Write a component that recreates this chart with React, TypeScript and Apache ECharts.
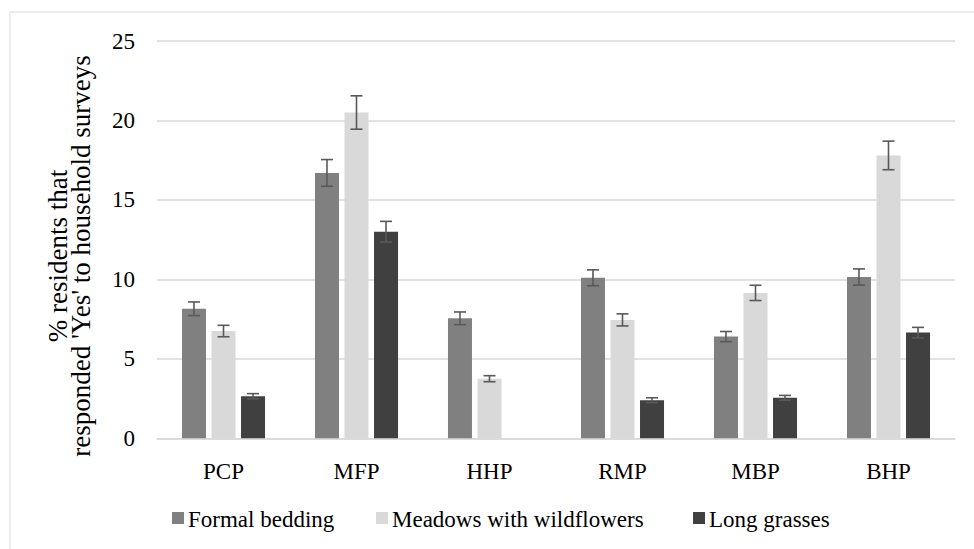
import React, { useEffect, useRef } from "react";
import * as echarts from "echarts";

const categories = ["PCP", "MFP", "HHP", "RMP", "MBP", "BHP"];
const seriesNames = ["Formal bedding", "Meadows with wildflowers", "Long grasses"];
const formalBedding = [8.15, 16.7, 7.55, 10.1, 6.4, 10.15];
const meadows = [6.75, 20.5, 3.75, 7.45, 9.15, 17.8];
const longGrasses = [2.65, 13.0, null, 2.4, 2.55, 6.65];
const formalErr = [0.43, 0.84, 0.4, 0.5, 0.32, 0.51];
const meadowsErr = [0.36, 1.05, 0.19, 0.38, 0.48, 0.9];
const longErr = [0.16, 0.65, null, 0.15, 0.15, 0.33];
const yTicks = [0, 5, 10, 15, 20, 25];

const colors = ["#808080", "#d9d9d9", "#404040"];
const FONT = "Liberation Serif";
const BAR_W = 24;
const BAR_GAP = 0.23;
const LEGEND_X = [172, 376, 693];

export default function App() {
  const ref = useRef<HTMLDivElement>(null);
  useEffect(() => {
    if (!ref.current) return;
    const chart = echarts.init(ref.current, null, { renderer: "svg" });
    const values = [formalBedding, meadows, longGrasses];
    const errs = [formalErr, meadowsErr, longErr];
    const barSeries = values.map((v, i) => ({
      type: "bar",
      name: seriesNames[i],
      data: v,
      barWidth: BAR_W,
      barGap: BAR_GAP * 100 + "%",
      itemStyle: { color: colors[i] },
      z: 2,
    }));
    const errSeries = values.map((v, i) => ({
      type: "custom",
      name: "err" + i,
      data: v
        .map((val, k) => (val == null || errs[i][k] == null ? null : [k, val, errs[i][k]]))
        .filter((d) => d != null),
      z: 5,
      renderItem: (params: any, api: any) => {
        const k = api.value(0);
        const val = api.value(1);
        const e = api.value(2);
        const hi = api.coord([k, val + e]);
        const lo = api.coord([k, val - e]);
        const off = (i - 1) * BAR_W * (1 + BAR_GAP);
        const x = hi[0] + off;
        const st = { stroke: "#595959", lineWidth: 1.6 };
        return {
          type: "group",
          children: [
            { type: "line", shape: { x1: x, y1: hi[1], x2: x, y2: lo[1] }, style: st },
            { type: "line", shape: { x1: x - 6, y1: hi[1], x2: x + 6, y2: hi[1] }, style: st },
            { type: "line", shape: { x1: x - 6, y1: lo[1], x2: x + 6, y2: lo[1] }, style: st },
          ],
        };
      },
    }));

    const legendEls: any[] = [];
    const ly = 519;
    seriesNames.forEach((n, i) => {
      const lx = LEGEND_X[i];
      legendEls.push({
        type: "rect",
        shape: { x: lx, y: ly - 7, width: 12, height: 12 },
        style: { fill: colors[i] },
      });
      legendEls.push({
        type: "text",
        x: lx + 16,
        y: ly,
        style: {
          text: n,
          fontFamily: FONT,
          fontSize: 23,
          fill: "#000",
          align: "left",
          verticalAlign: "middle",
        },
      });
    });

    chart.setOption({
      animation: false,
      backgroundColor: "#ffffff",
      textStyle: { fontFamily: FONT },
      grid: { left: 157, right: 19, top: 41, bottom: 110.7, containLabel: false },
      xAxis: {
        type: "category",
        data: categories,
        axisLine: { lineStyle: { color: "#d9d9d9", width: 1.5 } },
        axisTick: { show: false },
        axisLabel: { fontFamily: FONT, fontSize: 23, color: "#000", margin: 22 },
      },
      yAxis: {
        type: "value",
        min: yTicks[0],
        max: yTicks[yTicks.length - 1],
        interval: yTicks[1] - yTicks[0],
        axisLine: { show: false },
        axisTick: { show: false },
        splitLine: { lineStyle: { color: "#d9d9d9", width: 1.5 } },
        axisLabel: { fontFamily: FONT, fontSize: 23, color: "#000", margin: 22 },
      },
      graphic: [
        {
          type: "rect",
          shape: { x: 10, y: 12, width: 990, height: 600 },
          style: { fill: "none", stroke: "#d9d9d9", lineWidth: 1 },
          silent: true,
          z: -1,
        },
        {
          type: "text",
          x: 69,
          y: 256,
          rotation: Math.PI / 2,
          style: {
            text: "% residents that\nresponded 'Yes' to household surveys",
            fontFamily: FONT,
            fontSize: 27,
            fill: "#000",
            align: "center",
            verticalAlign: "middle",
            lineHeight: 23,
          },
        },
        ...legendEls,
      ],
      series: [...barSeries, ...errSeries],
    });
    return () => chart.dispose();
  }, []);
  return (
    <div
      ref={ref}
      style={{ position: "fixed", left: 0, top: 0, width: 974, height: 549, background: "#fff" }}
    />
  );
}
